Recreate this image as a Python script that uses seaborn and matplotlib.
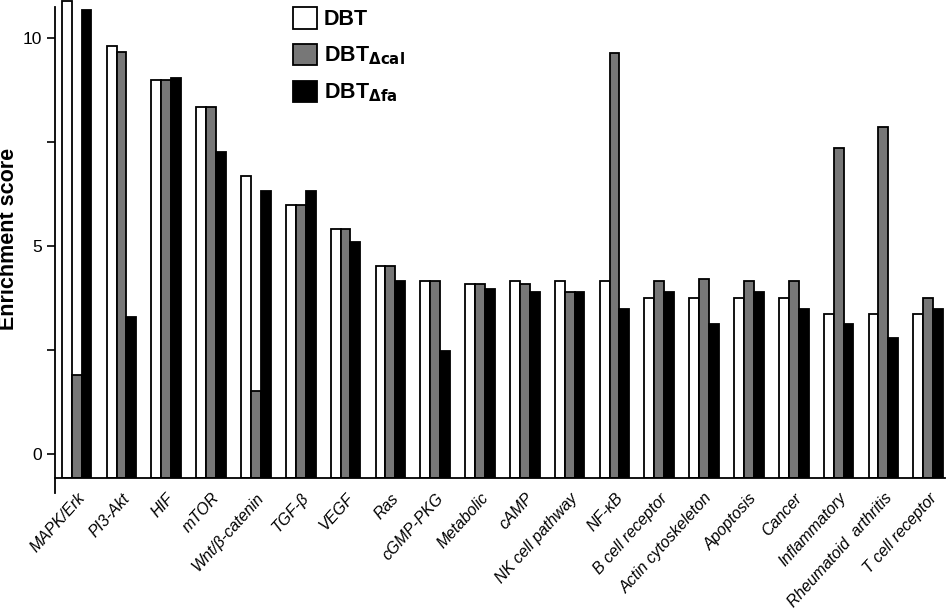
import pandas as pd
import matplotlib.pyplot as plt
import seaborn as sns
from matplotlib.ticker import MultipleLocator

# Pathway enrichment values
pathways = ["MAPK/Erk", "PI3-Akt", "HIF", "mTOR", "Wnt/β-catenin", "TGF-β", "VEGF",
            "Ras", "cGMP-PKG", "Metabolic", "cAMP", "NK cell pathway", "NF-κB",
            "B cell receptor", "Actin cytoskeleton", "Apoptosis", "Cancer",
            "Inflammatory", "Rheumatoid  arthritis", "T cell receptor"]
dbt = [10.9, 9.82, 9.0, 8.34, 6.69, 5.99, 5.42, 4.53, 4.16, 4.09, 4.16, 4.16, 4.16,
       3.76, 3.76, 3.76, 3.76, 3.36, 3.36, 3.36]
dbt_cal = [1.9, 9.66, 9.0, 8.34, 1.52, 5.99, 5.42, 4.53, 4.16, 4.09, 4.09, 3.89, 9.65,
           4.16, 4.21, 4.16, 4.16, 7.36, 7.86, 3.76]
dbt_fa = [10.67, 3.29, 9.04, 7.26, 6.32, 6.32, 5.10, 4.17, 2.48, 3.97, 3.89, 3.89, 3.49,
          3.89, 3.13, 3.89, 3.49, 3.13, 2.80, 3.49]

groups = ["DBT", "DBT_cal", "DBT_fa"]
legend_labels = [r"DBT", r"DBT$_{\Delta cal}$", r"DBT$_{\Delta fa}$"]
colors = ["white", "#777777", "black"]

df = pd.DataFrame({
    "Pathway": pathways * 3,
    "Score": dbt + dbt_cal + dbt_fa,
    "Group": [g for g in groups for _ in pathways],
})

plt.rcParams["font.family"] = ["Liberation Sans", "DejaVu Sans"]
plt.rcParams["mathtext.default"] = "bf"

fig = plt.figure(figsize=(9.5, 6.16), dpi=100)
ax = fig.add_axes([0.058, 0.224, 0.937, 0.776])

sns.barplot(data=df, x="Pathway", y="Score", hue="Group", palette=colors,
            edgecolor="black", linewidth=1.3, width=0.66, gap=0,
            errorbar=None, ax=ax)

# bars start from the bottom of the axis, as in the original
ybot = -0.58
for cont in ax.containers:
    for p in cont:
        h = p.get_height()
        p.set_y(ybot)
        p.set_height(h - ybot)

ax.set_ylim(ybot, 10.92)
ax.set_xlim(-0.48, len(pathways) - 1 + 0.38)
ax.yaxis.set_major_locator(MultipleLocator(5))
ax.yaxis.set_minor_locator(MultipleLocator(2.5))
ax.tick_params(axis="y", which="both", direction="out", length=6, width=1.2, labelsize=12.5)
ax.tick_params(axis="x", length=0, pad=9)
ax.set_xticks(range(len(pathways)))
ax.set_xticklabels(pathways, rotation=48, ha="right", rotation_mode="anchor",
                   fontsize=11.5, style="italic")

for s in ["top", "right"]:
    ax.spines[s].set_visible(False)
ax.spines["left"].set_linewidth(1.3)
ax.spines["bottom"].set_linewidth(1.3)
ax.spines["left"].set_bounds(-0.95, 10.75)

ax.set_xlabel("")
ax.set_ylabel("Enrichment score", fontsize=15.5, fontweight="bold")
ax.yaxis.set_label_coords(-0.04, 0.5)

handles, _ = ax.get_legend_handles_labels()
ax.legend(handles, legend_labels, loc="upper left", bbox_to_anchor=(0.245, 1.025),
          frameon=False, handlelength=1.15, handleheight=1.15, handletextpad=0.3,
          labelspacing=0.62, prop={"size": 15.5, "weight": "bold"})

fig.savefig("out.png", dpi=100)
